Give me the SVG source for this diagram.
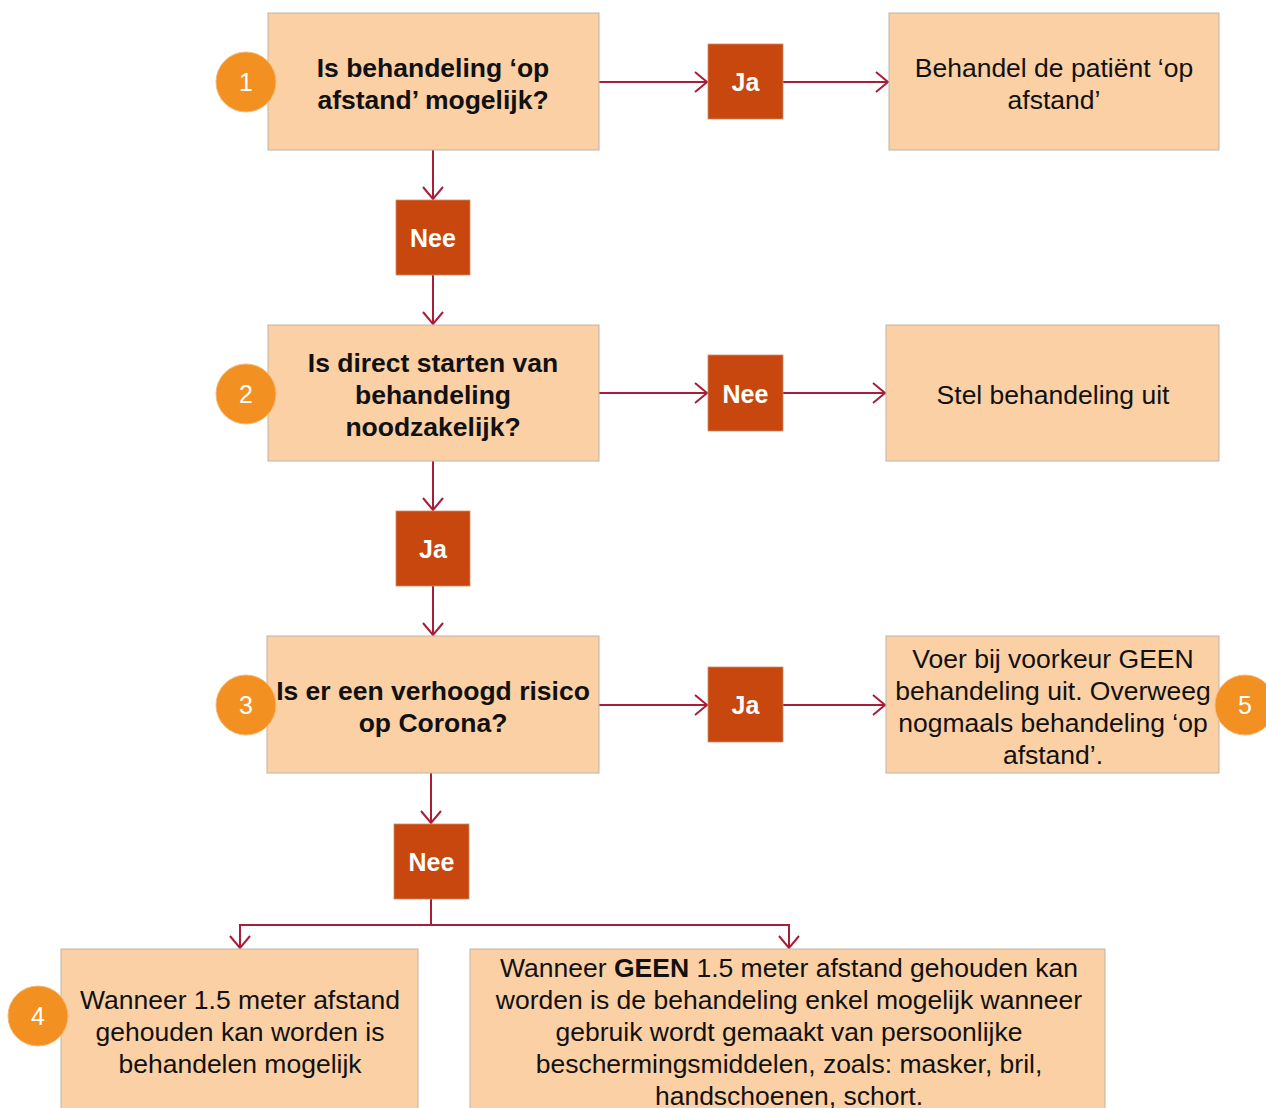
<svg xmlns="http://www.w3.org/2000/svg" width="1266" height="1108" viewBox="0 0 1266 1108">
<defs>
<style>
.box{fill:#FBD0A5;stroke:#BFB3A8;stroke-width:1}
.lbl{fill:#C7470E;stroke:#D08A6A;stroke-width:0.8}
.badge{fill:#F39022;stroke:#F6B877;stroke-width:1}
.q{font-family:"Liberation Sans",Arial,sans-serif;font-size:26.5px;font-weight:bold;fill:#111;text-anchor:middle}
.t{font-family:"Liberation Sans",Arial,sans-serif;font-size:26.5px;fill:#111;text-anchor:middle}
.lt{font-family:"Liberation Sans",Arial,sans-serif;font-size:25px;font-weight:bold;fill:#fff;text-anchor:middle}
.bt{font-family:"Liberation Sans",Arial,sans-serif;font-size:25px;fill:#fff;text-anchor:middle}
.c{fill:none;stroke:#A91D38;stroke-width:2}
</style>
<marker id="ah" viewBox="0 0 14 22" refX="13" refY="11" markerWidth="14" markerHeight="22" markerUnits="userSpaceOnUse" orient="auto">
<path d="M1,1 L13,11 L1,21" fill="none" stroke="#A91D38" stroke-width="2"/>
</marker>
</defs>
<rect width="1266" height="1108" fill="#fff"/>
<g id="connectors">
<line class="c" x1="599" y1="82" x2="707" y2="82" marker-end="url(#ah)"/>
<line class="c" x1="783" y1="82" x2="888" y2="82" marker-end="url(#ah)"/>
<line class="c" x1="433" y1="150" x2="433" y2="199" marker-end="url(#ah)"/>
<line class="c" x1="433" y1="275" x2="433" y2="324" marker-end="url(#ah)"/>
<line class="c" x1="599" y1="393" x2="707" y2="393" marker-end="url(#ah)"/>
<line class="c" x1="783" y1="393" x2="885" y2="393" marker-end="url(#ah)"/>
<line class="c" x1="433" y1="461" x2="433" y2="510" marker-end="url(#ah)"/>
<line class="c" x1="433" y1="586" x2="433" y2="635" marker-end="url(#ah)"/>
<line class="c" x1="599" y1="705" x2="707" y2="705" marker-end="url(#ah)"/>
<line class="c" x1="783" y1="705" x2="885" y2="705" marker-end="url(#ah)"/>
<line class="c" x1="431" y1="773" x2="431" y2="823" marker-end="url(#ah)"/>
<polyline class="c" points="431,899 431,925"/>
<polyline class="c" points="240,925 789,925"/>
<line class="c" x1="240" y1="924" x2="240" y2="948" marker-end="url(#ah)"/>
<line class="c" x1="789" y1="924" x2="789" y2="948" marker-end="url(#ah)"/>
</g>
<g id="q1">
<rect class="box" x="268" y="13" width="331" height="137"/>
<text class="q" x="433" y="76.5">Is behandeling ‘op</text>
<text class="q" x="433" y="108.5">afstand’ mogelijk?</text>
</g>
<g id="badge1"><circle class="badge" cx="246" cy="82" r="30"/><text class="bt" x="246" y="91">1</text></g>
<g id="ja1"><rect class="lbl" x="708" y="44" width="75" height="75"/><text class="lt" x="745.5" y="91">Ja</text></g>
<g id="r1">
<rect class="box" x="889" y="13" width="330" height="137"/>
<text class="t" x="1054" y="76.5">Behandel de patiënt ‘op</text>
<text class="t" x="1054" y="108.5">afstand’</text>
</g>
<g id="nee1"><rect class="lbl" x="396" y="200" width="74" height="75"/><text class="lt" x="433" y="247">Nee</text></g>
<g id="q2">
<rect class="box" x="268" y="325" width="331" height="136"/>
<text class="q" x="433" y="371.5">Is direct starten van</text>
<text class="q" x="433" y="403.5">behandeling</text>
<text class="q" x="433" y="435.5">noodzakelijk?</text>
</g>
<g id="badge2"><circle class="badge" cx="246" cy="394" r="30"/><text class="bt" x="246" y="403">2</text></g>
<g id="nee2"><rect class="lbl" x="708" y="355" width="75" height="76"/><text class="lt" x="745.5" y="402.5">Nee</text></g>
<g id="r2">
<rect class="box" x="886" y="325" width="333" height="136"/>
<text class="t" x="1053" y="403.5">Stel behandeling uit</text>
</g>
<g id="ja2"><rect class="lbl" x="396" y="511" width="74" height="75"/><text class="lt" x="433" y="558">Ja</text></g>
<g id="q3">
<rect class="box" x="267" y="636" width="332" height="137"/>
<text class="q" x="433" y="699.5">Is er een verhoogd risico</text>
<text class="q" x="433" y="731.5">op Corona?</text>
</g>
<g id="badge3"><circle class="badge" cx="246" cy="705" r="30"/><text class="bt" x="246" y="714">3</text></g>
<g id="ja3"><rect class="lbl" x="708" y="667" width="75" height="75"/><text class="lt" x="745.5" y="714">Ja</text></g>
<g id="r3">
<rect class="box" x="886" y="636" width="333" height="137"/>
<text class="t" x="1053" y="667.5">Voer bij voorkeur GEEN</text>
<text class="t" x="1053" y="699.5">behandeling uit. Overweeg</text>
<text class="t" x="1053" y="731.5">nogmaals behandeling ‘op</text>
<text class="t" x="1053" y="763.5">afstand’.</text>
</g>
<g id="badge5"><circle class="badge" cx="1245" cy="705" r="30"/><text class="bt" x="1245" y="714">5</text></g>
<g id="nee3"><rect class="lbl" x="394" y="824" width="75" height="75"/><text class="lt" x="431.5" y="871">Nee</text></g>
<g id="r4">
<rect class="box" x="61" y="949" width="357" height="165"/>
<text class="t" x="240" y="1008.5">Wanneer 1.5 meter afstand</text>
<text class="t" x="240" y="1040.5">gehouden kan worden is</text>
<text class="t" x="240" y="1072.5">behandelen mogelijk</text>
</g>
<g id="badge4"><circle class="badge" cx="38" cy="1016" r="30"/><text class="bt" x="38" y="1025">4</text></g>
<g id="r5">
<rect class="box" x="470" y="949" width="635" height="165"/>
<text class="t" x="789" y="976.5">Wanneer <tspan font-weight="bold">GEEN</tspan> 1.5 meter afstand gehouden kan</text>
<text class="t" x="789" y="1008.5">worden is de behandeling enkel mogelijk wanneer</text>
<text class="t" x="789" y="1040.5">gebruik wordt gemaakt van persoonlijke</text>
<text class="t" x="789" y="1072.5">beschermingsmiddelen, zoals: masker, bril,</text>
<text class="t" x="789" y="1104.5">handschoenen, schort.</text>
</g>
</svg>
